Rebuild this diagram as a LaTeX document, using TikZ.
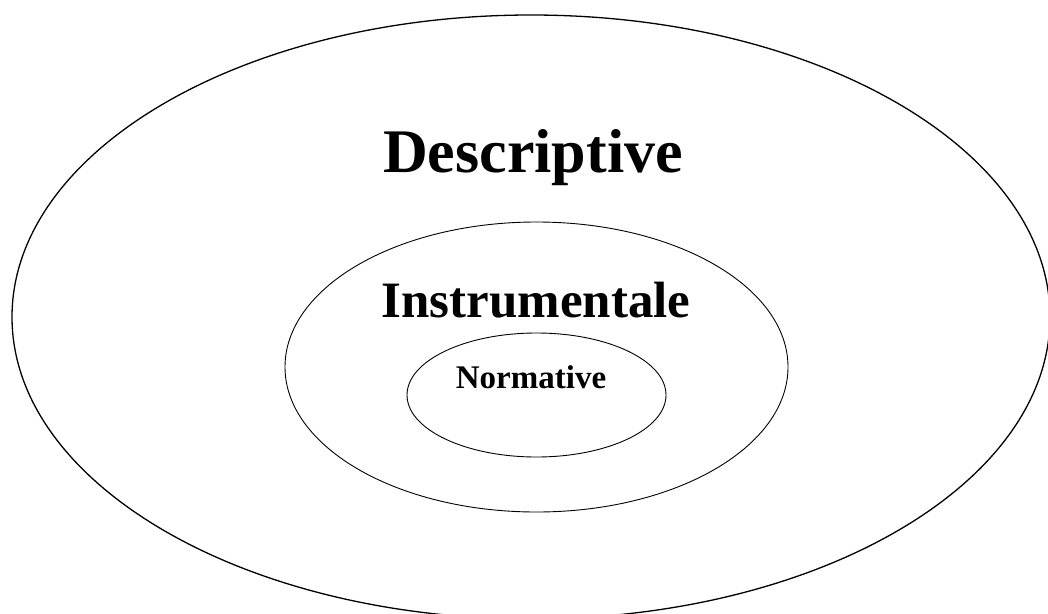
\documentclass[tikz,border=0pt]{standalone}
\usepackage{fontspec}
\setmainfont{Liberation Serif}
\usetikzlibrary{shapes.geometric}
\begin{document}
\begin{tikzpicture}[x=1pt,y=-1pt,
  ring/.style={draw=black},
  lbl/.style={anchor=base,inner sep=0pt,font=\bfseries}]
\useasboundingbox (0,0) rectangle (1048,613);
\begin{scope}
\clip (0,0) rectangle (1048,613);
\draw[ring,line width=1.3pt] (531,317) ellipse [x radius=519, y radius=302];
\end{scope}
\draw[ring,line width=0.9pt] (536.5,367) ellipse [x radius=251.5, y radius=145];
\draw[ring,line width=0.9pt] (536.5,395) ellipse [x radius=129.5, y radius=62];
\node[lbl,font=\bfseries\fontsize{62}{70}\selectfont] (desc) at (533,172) {Descriptive};
\node[lbl,font=\bfseries\fontsize{51}{58}\selectfont] (instr) at (536,317) {Instrumentale};
\node[lbl,font=\bfseries\fontsize{33}{38}\selectfont] (norm) at (531,388) {Normative};
\end{tikzpicture}
\end{document}
